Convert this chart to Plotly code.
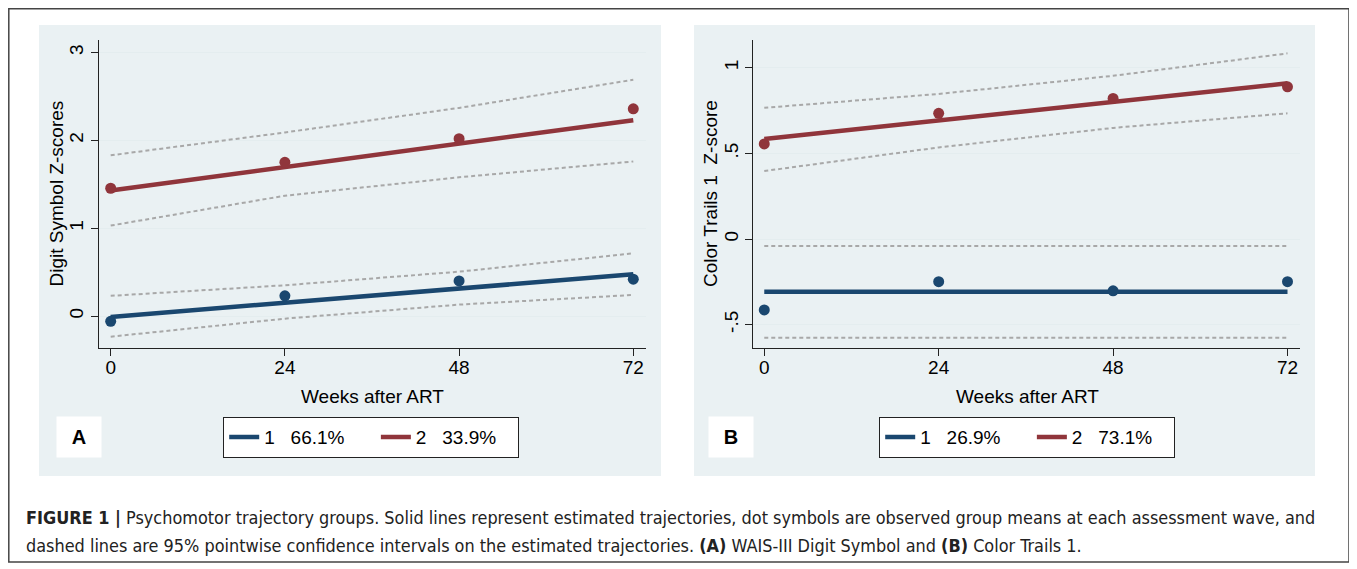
import plotly.graph_objects as go

# The page adds an 8px body margin, so the figure is offset by (8, 8)
OX, OY = 8, 8
FW, FH = 1349, 561

weeks = [0, 24, 48, 72]
x_ticks = [0, 24, 48, 72]
x_ticktext = ["0", "24", "48", "72"]

# Panel A: WAIS-III Digit Symbol
a_g1_obs = [-0.06, 0.23, 0.40, 0.42]
a_g1_fit = [-0.01, 0.155, 0.315, 0.475]
a_g1_hi = [0.23, 0.35, 0.505, 0.714]
a_g1_lo = [-0.235, -0.03, 0.13, 0.24]
a_g2_obs = [1.455, 1.75, 2.02, 2.36]
a_g2_fit = [1.43, 1.697, 1.963, 2.23]
a_g2_hi = [1.83, 2.09, 2.37, 2.69]
a_g2_lo = [1.03, 1.37, 1.58, 1.76]
a_yticks = [0, 1, 2, 3]
a_yticktext = ["0", "1", "2", "3"]
a_legend = ["1\u00a0\u00a0\u00a066.1%", "2\u00a0\u00a0\u00a033.9%"]

# Panel B: Color Trails 1
b_g1_obs = [-0.414, -0.249, -0.302, -0.249]
b_g1_fit = [-0.307, -0.307, -0.307, -0.307]
b_g1_hi = [-0.04, -0.04, -0.04, -0.04]
b_g1_lo = [-0.576, -0.576, -0.576, -0.576]
b_g2_obs = [0.555, 0.734, 0.821, 0.889]
b_g2_fit = [0.584, 0.692, 0.801, 0.909]
b_g2_hi = [0.766, 0.847, 0.953, 1.084]
b_g2_lo = [0.397, 0.535, 0.649, 0.734]
b_yticks = [-0.5, 0, 0.5, 1]
b_yticktext = ["-.5", "0", ".5", "1"]
b_legend = ["1\u00a0\u00a0\u00a026.9%", "2\u00a0\u00a0\u00a073.1%"]

BLUE = "#1a476f"
RED = "#90353b"
CI = "#a8a8a8"
PANEL_BG = "#eaf1f3"
GRID = "#e4edef"
FONT = "Liberation Sans, Arial, sans-serif"
CAPFONT = "Liberation Sans Narrow, DejaVu Sans Condensed, Liberation Sans, sans-serif"
GAP = "\u00a0" * 5
TAIL = "\u00a0" * 3


def px(x):
    return (x - OX) / FW


def py(y):
    return 1 - (y - OY) / FH


fig = go.Figure()


def add_group(xa, ya, obs, fit, hi, lo, color, name, legend):
    for band in (hi, lo):
        fig.add_trace(go.Scatter(x=weeks, y=band, mode="lines", xaxis=xa, yaxis=ya,
                                 line=dict(color=CI, width=2, dash="4px,3px"),
                                 showlegend=False, hoverinfo="skip"))
    fig.add_trace(go.Scatter(x=weeks, y=fit, mode="lines", xaxis=xa, yaxis=ya,
                             line=dict(color=color, width=4.5), name=name,
                             legend=legend, showlegend=True))
    fig.add_trace(go.Scatter(x=weeks, y=obs, mode="markers", xaxis=xa, yaxis=ya,
                             marker=dict(color=color, size=11), showlegend=False))


add_group("x", "y", a_g1_obs, a_g1_fit, a_g1_hi, a_g1_lo, BLUE, a_legend[0] + GAP, "legend")
add_group("x", "y", a_g2_obs, a_g2_fit, a_g2_hi, a_g2_lo, RED, a_legend[1] + TAIL, "legend")
add_group("x2", "y2", b_g1_obs, b_g1_fit, b_g1_hi, b_g1_lo, BLUE, b_legend[0] + GAP, "legend2")
add_group("x2", "y2", b_g2_obs, b_g2_fit, b_g2_hi, b_g2_lo, RED, b_legend[1] + TAIL, "legend2")

ydom = [py(348), py(40)]
axis_common = dict(showline=True, linecolor="#222", linewidth=1.3, ticks="outside",
                   ticklen=7, tickwidth=1.2, tickcolor="#222", zeroline=False,
                   tickfont=dict(family=FONT, size=19, color="black"))

legend_common = dict(xanchor="center", y=py(417), yanchor="top",
                     orientation="h", bgcolor="white", bordercolor="#222", borderwidth=1.2,
                     font=dict(family=FONT, size=19, color="black"), itemwidth=30)

fig.update_layout(
    width=FW, height=FH, margin=dict(l=0, r=0, t=0, b=0),
    paper_bgcolor="white", plot_bgcolor="white",
    xaxis=dict(domain=[px(99), px(645.7)], range=[-1.61, 73.71], anchor="y",
               tickvals=x_ticks, ticktext=x_ticktext, showgrid=False,
               ticklabelstandoff=-5, **axis_common),
    yaxis=dict(domain=ydom, range=[-0.364, 3.143], anchor="x",
               tickvals=a_yticks, ticktext=a_yticktext, tickangle=-90,
               showgrid=True, gridcolor=GRID, gridwidth=1.2, **axis_common),
    xaxis2=dict(domain=[px(753.3), px(1300)], range=[-1.51, 73.72], anchor="y2",
                tickvals=x_ticks, ticktext=x_ticktext, showgrid=False,
                ticklabelstandoff=-5, **axis_common),
    yaxis2=dict(domain=ydom, range=[-0.636, 1.162], anchor="x2",
                tickvals=b_yticks, ticktext=b_yticktext, tickangle=-90,
                showgrid=True, gridcolor=GRID, gridwidth=1.2, **axis_common),
    legend=dict(x=px(371), **legend_common),
    legend2=dict(x=px(1027), **legend_common),
    showlegend=True,
)

shapes = [
    dict(type="rect", xref="paper", yref="paper", x0=px(39), x1=px(661),
         y0=py(476), y1=py(25), fillcolor=PANEL_BG, line=dict(width=0), layer="below"),
    dict(type="rect", xref="paper", yref="paper", x0=px(694), x1=px(1315),
         y0=py(476), y1=py(25), fillcolor=PANEL_BG, line=dict(width=0), layer="below"),
    dict(type="rect", xref="paper", yref="paper", x0=px(8.8), x1=px(1349),
         y0=py(562), y1=py(8.8), fillcolor="rgba(0,0,0,0)",
         line=dict(color="#444", width=1.5), layer="below"),
]
fig.update_layout(shapes=shapes)

ann = []
ann.append(dict(text="Digit Symbol Z-scores", x=px(55.5), y=py(194), textangle=-90))
ann.append(dict(text="Color Trails 1\u00a0 Z-score", x=px(710), y=py(194), textangle=-90))
ann.append(dict(text="Weeks after ART", x=px(372), y=py(396)))
ann.append(dict(text="Weeks after ART", x=px(1027), y=py(396)))
for a in ann:
    a.update(xref="paper", yref="paper", showarrow=False, xanchor="center", yanchor="middle",
             font=dict(family=FONT, size=19, color="black"))
for letter, cx in (("A", 78.5), ("B", 730.5)):
    ann.append(dict(text="<b>%s</b>" % letter, x=px(cx), y=py(437), xref="paper", yref="paper",
                    showarrow=False, xanchor="center", yanchor="middle", bgcolor="white",
                    width=44, height=40, borderpad=0,
                    font=dict(family=FONT, size=20, color="black")))
cap1 = ("<b>FIGURE 1 |</b> Psychomotor trajectory groups. Solid lines represent estimated trajectories, "
        "dot symbols are observed group means at each assessment wave, and")
cap2 = ("dashed lines are 95% pointwise confidence intervals on the estimated trajectories. "
        "<b>(A)</b> WAIS-III Digit Symbol and <b>(B)</b> Color Trails 1.")
for txt, cy in ((cap1, 517), (cap2, 545)):
    ann.append(dict(text=txt, x=px(24), y=py(cy), xref="paper", yref="paper", showarrow=False,
                    xanchor="left", yanchor="middle",
                    font=dict(family=CAPFONT, size=17.9, color="#222")))
fig.update_layout(annotations=ann)

fig.write_html("out.html")
